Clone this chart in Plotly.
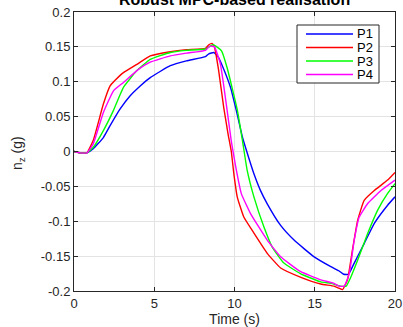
import plotly.graph_objects as go

# ---- data ----
t_p1 = [0, 0.4, 0.8, 1.2, 1.83, 2.25, 2.875, 3.5, 4.125, 4.75, 6, 7, 8.19, 8.4, 8.71, 9.0, 9.33, 9.75,
        10.1, 10.5, 10.9, 11.21, 11.6, 12.04, 12.875, 13.71, 14.96, 16.0, 16.5, 16.8, 17.1, 17.46, 18.08,
        18.71, 19.54, 20]
v_p1 = [0, -0.002, -0.002, 0.004, 0.020, 0.037, 0.061, 0.080, 0.094, 0.106, 0.123, 0.130, 0.136, 0.140,
        0.142, 0.135, 0.118, 0.092, 0.060, 0.020, -0.010, -0.032, -0.055, -0.075, -0.106, -0.127, -0.151,
        -0.165, -0.171, -0.176, -0.176, -0.160, -0.132, -0.103, -0.077, -0.065]

t_p2 = [0, 0.4, 0.8, 1.2, 1.83, 2.25, 2.56, 3.08, 3.92, 4.75, 6, 7, 8.19, 8.4, 8.6, 8.75, 9.0, 9.33,
        9.6, 9.8, 9.96, 10.17, 10.58, 11.21, 12.04, 12.875, 14.1, 15.375, 16.2, 16.5, 16.73, 17.04, 17.35,
        17.67, 18.08, 18.71, 19.54, 20]
v_p2 = [0, -0.002, -0.002, 0.016, 0.068, 0.094, 0.102, 0.113, 0.125, 0.137, 0.143, 0.146, 0.148, 0.153,
        0.155, 0.150, 0.118, 0.063, 0.025, 0.0, -0.032, -0.065, -0.094, -0.117, -0.146, -0.167, -0.180,
        -0.190, -0.193, -0.196, -0.198, -0.184, -0.141, -0.099, -0.070, -0.056, -0.041, -0.030]

t_p3 = [0, 0.4, 0.8, 1.2, 1.83, 2.46, 3.08, 3.92, 4.75, 6, 7, 8.19, 8.65, 8.9, 9.2, 9.54, 10.17, 10.5,
        10.79, 11.21, 11.83, 12.35, 13.08, 14.1, 15.375, 16.0, 16.62, 16.96, 17.25, 17.67, 18.29, 18.92,
        19.54, 20]
v_p3 = [0, -0.002, -0.002, 0.006, 0.030, 0.059, 0.092, 0.116, 0.132, 0.142, 0.145, 0.147, 0.153, 0.150,
        0.144, 0.120, 0.060, 0.015, -0.027, -0.065, -0.108, -0.137, -0.160, -0.175, -0.187, -0.189, -0.193,
        -0.193, -0.180, -0.156, -0.118, -0.084, -0.060, -0.046]

t_p4 = [0, 0.4, 0.8, 1.2, 1.83, 2.46, 3.08, 3.92, 4.75, 6, 7, 8.19, 8.45, 8.75, 9.125, 9.54, 9.8, 10.06,
        10.42, 11.0, 12.04, 12.875, 14.1, 15.375, 16.2, 16.5, 16.83, 17.15, 17.46, 17.77, 18.29, 19.125, 20]
v_p4 = [0, -0.002, -0.002, 0.011, 0.056, 0.087, 0.099, 0.116, 0.128, 0.137, 0.141, 0.145, 0.151, 0.150,
        0.125, 0.059, 0.015, -0.020, -0.060, -0.089, -0.127, -0.151, -0.172, -0.184, -0.189, -0.193, -0.193,
        -0.175, -0.127, -0.094, -0.075, -0.056, -0.041]

series_names = ["P1", "P2", "P3", "P4"]
series_colors = ["#0000FF", "#FF0000", "#00FF00", "#FF00FF"]

x_tickvals = [0, 5, 10, 15, 20]
x_ticktext = ["0", "5", "10", "15", "20"]
y_tickvals = [0.2, 0.15, 0.1, 0.05, 0, -0.05, -0.1, -0.15, -0.2]
y_ticktext = ["0.2", "0.15", "0.1", "0.05", "0", "-0.05", "-0.1", "-0.15", "-0.2"]

FONT = "Liberation Sans, Arial, Helvetica, sans-serif"
AX = "#262626"

# plot-area geometry (pixels)
W, H = 403, 327
ML, MR, MT, MB = 74, 8, 12, 36
PW, PH = W - ML - MR, H - MT - MB

fig = go.Figure()
for name, color, tx, vy in zip(series_names, series_colors,
                               [t_p1, t_p2, t_p3, t_p4], [v_p1, v_p2, v_p3, v_p4]):
    fig.add_trace(go.Scatter(x=tx, y=vy, mode="lines", name=name, showlegend=False,
                             line=dict(color=color, width=1.4, shape="spline", smoothing=0.4)))

axis_common = dict(showline=True, linecolor=AX, linewidth=1, mirror="allticks",
                   ticks="inside", ticklen=4, tickcolor=AX, tickwidth=1, automargin=False,
                   showgrid=True, gridcolor="#E3E3E3", gridwidth=1, zeroline=False,
                   tickfont=dict(family=FONT, size=13, color=AX))

fig.update_xaxes(range=[0, 20], tickvals=x_tickvals, ticktext=x_ticktext,
                 title=dict(text="Time (s)", font=dict(family=FONT, size=14, color=AX), standoff=0),
                 **axis_common)
fig.update_yaxes(range=[-0.2, 0.2], tickvals=y_tickvals, ticktext=y_ticktext, **axis_common)


def px2x(px):
    return (px - ML) / PW


def py2y(py):
    return (H - MB - py) / PH


# y-axis title placed like the reference (close to the left edge)
fig.add_annotation(text="n<sub>z</sub> (g)", xref="paper", yref="paper",
                   x=px2x(18), y=py2y(153), xanchor="center", yanchor="middle",
                   textangle=-90, showarrow=False,
                   font=dict(family=FONT, size=14, color=AX))

# title (partly clipped by the top edge, as in the reference)
fig.add_annotation(text="<b>Robust MPC-based realisation</b>", xref="paper", yref="paper",
                   x=0.5, y=1.0, xanchor="center", yanchor="bottom", yshift=2, showarrow=False,
                   font=dict(family=FONT, size=16, color="black"))

# compact legend box (MATLAB style)
fig.add_shape(type="rect", xref="paper", yref="paper",
              x0=px2x(297), x1=px2x(379), y0=py2y(83), y1=py2y(25),
              line=dict(color=AX, width=1), fillcolor="white", layer="above")
row_py = [34, 47.5, 61, 74.5]
for name, color, ry in zip(series_names, series_colors, row_py):
    fig.add_shape(type="line", xref="paper", yref="paper",
                  x0=px2x(306), x1=px2x(353), y0=py2y(ry), y1=py2y(ry),
                  line=dict(color=color, width=1.4), layer="above")
    fig.add_annotation(text=name, xref="paper", yref="paper", x=px2x(356), y=py2y(ry),
                       xanchor="left", yanchor="middle", showarrow=False, borderpad=0,
                       font=dict(family=FONT, size=13, color="black"))

fig.update_layout(
    width=W, height=H,
    margin=dict(l=ML, r=MR, t=MT, b=MB),
    paper_bgcolor="white", plot_bgcolor="white",
    font=dict(family=FONT, size=12, color=AX),
    showlegend=False,
)

fig.write_html("out.html")
